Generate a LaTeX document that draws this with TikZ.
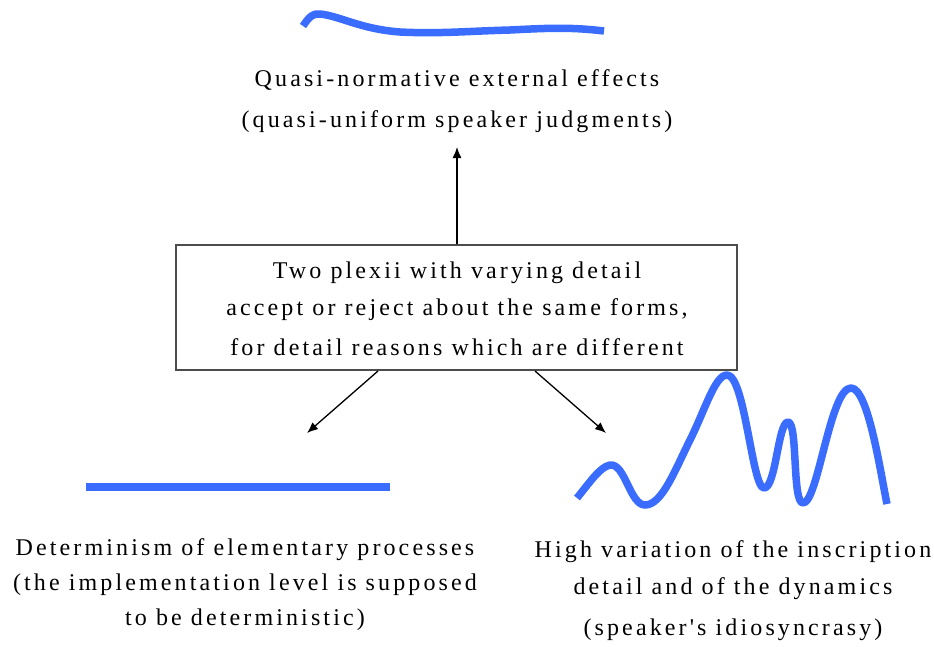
\documentclass[tikz,border=0pt]{standalone}
\usepackage{fontspec}
\newfontfamily\lblfont[LetterSpace=13]{Liberation Serif}
\usetikzlibrary{arrows.meta}
\definecolor{wave}{RGB}{58,108,255}
\begin{document}
\begin{tikzpicture}[x=1pt,y=-1pt,
  lbl/.style={font=\lblfont\fontsize{24}{28}\selectfont, inner sep=0pt, anchor=center},
  wavy/.style={draw=wave, line width=7.5pt, line cap=butt, line join=round},
  arr/.style={draw=black, line width=1.3pt, -{Latex[length=11pt,width=9pt]}}]
\useasboundingbox (0,0) rectangle (934,646);
% box
\node[draw=black!70, line width=1.2pt, minimum width=561pt, minimum height=125pt, inner sep=0pt] (box) at (456.5,307.5) {};
\node[lbl] (b1) at (457,273) {Two plexii with varying detail};
\node[lbl] (b2) at (457,310) {accept or reject about the same forms,};
\node[lbl] (b3) at (457,347) {for detail reasons which are different};
% top texts
\node[lbl] (t1) at (457,80) {Quasi-normative external effects};
\node[lbl] (t2) at (457,122) {(quasi-uniform speaker judgments)};
% left texts
\node[lbl] (l1) at (245,550) {Determinism of elementary processes};
\node[lbl] (l2) at (245,585) {(the implementation level is supposed};
\node[lbl] (l3) at (245,620) {to be deterministic)};
% right texts
\node[lbl] (r1) at (733,552) {High variation of the inscription};
\node[lbl] (r2) at (733,589) {detail and of the dynamics};
\node[lbl] (r3) at (733,630) {(speaker's idiosyncrasy)};
% arrows
\coordinate (topend) at (457,147);
\coordinate (la) at (378,371);
\coordinate (lend) at (307,433);
\coordinate (ra) at (535,371);
\coordinate (rend) at (606,433);
\draw[arr] (box.north -| topend) -- (topend);
\draw[arr] (la) -- (lend);
\draw[arr] (ra) -- (rend);
% top curve
\draw[wavy] (303,26) .. controls (309,17) and (313,13) .. (320,14)
  .. controls (340,16) and (360,29) .. (400,32)
  .. controls (440,34) and (470,31) .. (510,30)
  .. controls (550,28) and (570,27) .. (604,31);
% straight line
\draw[wavy] (86,487) -- (390,487);
% big wave
\draw[wavy] (577,498) .. controls (590,482) and (600,467) .. (610,465)
  .. controls (625,463) and (630,505) .. (645,505)
  .. controls (662,505) and (675,470) .. (690,440)
  .. controls (705,410) and (715,375) .. (727,375)
  .. controls (745,375) and (752,488) .. (764,488)
  .. controls (776,488) and (778,422) .. (788,422)
  .. controls (798,422) and (792,503) .. (803,503)
  .. controls (818,503) and (830,388) .. (851,388)
  .. controls (868,388) and (880,470) .. (887,504);
\end{tikzpicture}
\end{document}
